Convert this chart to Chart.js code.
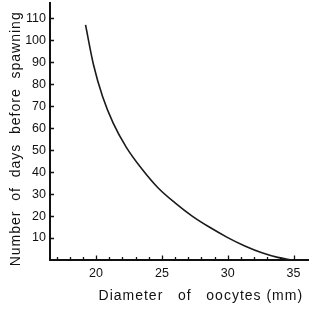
<!DOCTYPE html>
<html>
<head>
<meta charset="utf-8">
<script src="https://cdn.jsdelivr.net/npm/chart.js@4.4.1/dist/chart.umd.min.js"></script>
<style>
  html, body { margin: 0; padding: 0; background: #fff; }
  #wrap { width: 325px; height: 312px; }
</style>
</head>
<body>
<div id="wrap"><canvas id="chart"></canvas></div>
<script>
// values
const diameter = [19.2, 19.8, 20.5, 21.3, 22.3, 23.5, 24.7, 26.0, 27.3, 28.6, 30.0, 31.3, 32.6, 33.8, 34.9];
const days = [107, 89, 74.3, 62.3, 51.3, 41.3, 32.9, 26.0, 20.0, 15.0, 10.2, 6.4, 3.3, 1.2, 0];

const xLabels = [20, 25, 30, 35];
const yLabels = [10, 20, 30, 40, 50, 60, 70, 80, 90, 100, 110];
const xMinor = [17, 18, 19, 20, 21, 22, 23, 24, 25, 26, 27, 28, 29, 30, 31, 32, 33, 34, 35];

const tickFont = { family: 'Liberation Sans, Arial, sans-serif', size: 12.5 };
const titleFont = { family: 'Liberation Sans, Arial, sans-serif', size: 14 };

// spaced-out axis titles and small inward tick marks, like the printed figure
const printStyle = {
    id: 'printStyle',
    beforeDraw(chart) {
        Object.values(chart.scales).forEach(s => {
            if (s._spaced) return;
            const orig = s.drawTitle;
            s.drawTitle = function () {
                this.ctx.save();
                this.ctx.letterSpacing = '1px';
                orig.call(this);
                this.ctx.restore();
            };
            s._spaced = true;
        });
    },
    afterDraw(chart) {
        const ctx = chart.ctx;
        const x = chart.scales.x;
        const y = chart.scales.y;
        const area = chart.chartArea;
        ctx.save();
        ctx.strokeStyle = '#111';
        ctx.lineWidth = 1.3;
        ctx.beginPath();
        xMinor.forEach(v => {
            const px = Math.round(x.getPixelForValue(v)) + 0.5;
            const len = v % 5 === 0 ? 4.5 : 3;
            ctx.moveTo(px, area.bottom);
            ctx.lineTo(px, area.bottom - len);
        });
        yLabels.forEach(v => {
            const py = Math.round(y.getPixelForValue(v)) + 0.5;
            ctx.moveTo(area.left, py);
            ctx.lineTo(area.left + 4, py);
        });
        ctx.stroke();
        ctx.restore();
    }
};

new Chart(document.getElementById('chart'), {
    type: 'line',
    data: {
        datasets: [{
            data: diameter.map((d, i) => ({ x: d, y: days[i] })),
            borderColor: '#1a1a1a',
            borderWidth: 1.6,
            pointRadius: 0,
            fill: false,
            cubicInterpolationMode: 'monotone'
        }]
    },
    options: {
        responsive: true,
        maintainAspectRatio: false,
        animation: false,
        events: [],
        layout: { padding: { top: 3, right: 17, left: 0, bottom: 0 } },
        plugins: { legend: { display: false }, tooltip: { enabled: false } },
        scales: {
            x: {
                type: 'linear',
                min: 16.5,
                max: 36.1,
                afterBuildTicks: s => { s.ticks = xLabels.map(v => ({ value: v })); },
                afterFit: s => {
                    s.height = 52;
                    s.paddingLeft = 0;
                    s.paddingRight = 0;
                },
                grid: { display: false, drawTicks: false },
                border: { display: true, color: '#111', width: 2 },
                ticks: { color: '#111', font: tickFont, padding: 6, maxRotation: 0 },
                title: {
                    display: true,
                    text: 'Diameter   of   oocytes (mm) ',
                    align: 'end',
                    color: '#111',
                    font: titleFont,
                    padding: { top: 0, bottom: 7 }
                }
            },
            y: {
                type: 'linear',
                min: 0,
                max: 117,
                afterBuildTicks: s => { s.ticks = yLabels.map(v => ({ value: v })); },
                afterFit: s => {
                    s.width = 50;
                    s.paddingTop = 0;
                    s.paddingBottom = 0;
                },
                grid: { display: false, drawTicks: false },
                border: { display: true, color: '#111', width: 2 },
                ticks: { color: '#111', font: tickFont, padding: 4 },
                title: {
                    display: true,
                    text: 'Number  of  days  before  spawning   ',
                    color: '#111',
                    font: titleFont,
                    padding: { top: 8, bottom: 0 }
                }
            }
        }
    },
    plugins: [printStyle]
});
</script>
</body>
</html>
